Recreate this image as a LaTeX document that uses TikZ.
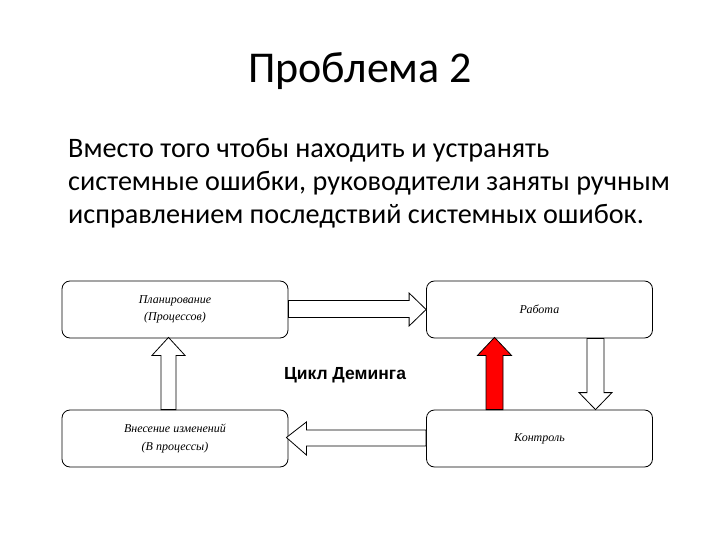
\documentclass[tikz,border=0pt]{standalone}
\usepackage{fontspec}
\setmainfont{Carlito}
\newfontfamily\boxfont{Liberation Serif}
\newfontfamily\arialfont{Liberation Sans}
\usetikzlibrary{calc}
\definecolor{arrred}{HTML}{FF0000}
\tikzset{
  stagebox/.style={draw=black, line width=0.8pt, rounded corners=8pt,
    minimum width=226pt, minimum height=57pt, align=center,
    font=\boxfont\itshape\fontsize{12}{17.5}\selectfont, inner sep=0pt},
  blockarr/.style={draw=black, line width=0.8pt, fill=white, line join=miter},
  redarr/.style={blockarr, fill=arrred},
  titletext/.style={font=\fontsize{44}{50}\selectfont, inner sep=0pt},
  bodytext/.style={font=\fontsize{28.2}{33}\selectfont, inner sep=0pt, anchor=base west},
  cycletext/.style={font=\arialfont\bfseries\fontsize{17.5}{20}\selectfont, inner sep=0pt}
}
\begin{document}
\begin{tikzpicture}[x=1pt, y=-1pt]
\useasboundingbox (0,0) rectangle (720,540);
\fill[white] (0,0) rectangle (720,540);

\node[titletext, anchor=base] (title) at (360,83) {Проблема 2};
\node[bodytext] (l1) at (68,158) {Вместо того чтобы находить и устранять};
\node[bodytext] (l2) at (68,191) {системные ошибки, руководители заняты ручным};
\node[bodytext] (l3) at (68,224) {исправлением последствий системных ошибок.};

\node[stagebox] (plan) at (175,309.5) {Планирование\\(Процессов)};
\node[stagebox] (work) at (539.5,309.5) {Работа};
\node[stagebox] (change) at (175,438.5) {Внесение изменений\\(В процессы)};
\node[stagebox] (ctrl) at (539.5,438.5) {Контроль};

\node[cycletext] (cycle) at (345,375) {Цикл Деминга};

% planning -> work
\draw[blockarr] ($(plan.east)+(0,-9)$) -- ($(work.west)+(-17,-9)$) -- ($(work.west)+(-17,-16.5)$)
  -- (work.west) -- ($(work.west)+(-17,16.5)$) -- ($(work.west)+(-17,8)$) -- ($(plan.east)+(0,8)$) -- cycle;
% control -> change
\draw[blockarr] ($(ctrl.west)+(0,-8.5)$) -- ($(change.east)+(18,-8.5)$) -- ($(change.east)+(18,-16.5)$)
  -- ($(change.east)+(-2,-1)$) -- ($(change.east)+(18,16.5)$) -- ($(change.east)+(18,7.5)$) -- ($(ctrl.west)+(0,7.5)$) -- cycle;
% change -> planning
\draw[blockarr] ($(change.north)+(-14,0)$) -- ($(plan.south)+(-14,17)$) -- ($(plan.south)+(-23,17)$)
  -- ($(plan.south)+(-6.5,-1)$) -- ($(plan.south)+(10,17)$) -- ($(plan.south)+(1,17)$) -- ($(change.north)+(1,0)$) -- cycle;
% control -> work (red)
\draw[redarr] ($(ctrl.north)+(-53.5,0)$) -- ($(work.south)+(-53.5,17)$) -- ($(work.south)+(-62,17)$)
  -- ($(work.south)+(-45,-1)$) -- ($(work.south)+(-28,17)$) -- ($(work.south)+(-36.5,17)$) -- ($(ctrl.north)+(-36.5,0)$) -- cycle;
% work -> control
\draw[blockarr] ($(work.south)+(47.5,0)$) -- ($(ctrl.north)+(47.5,-17)$) -- ($(ctrl.north)+(39.5,-17)$)
  -- ($(ctrl.north)+(56,0)$) -- ($(ctrl.north)+(72.5,-17)$) -- ($(ctrl.north)+(64.5,-17)$) -- ($(work.south)+(64.5,0)$) -- cycle;
\end{tikzpicture}
\end{document}
